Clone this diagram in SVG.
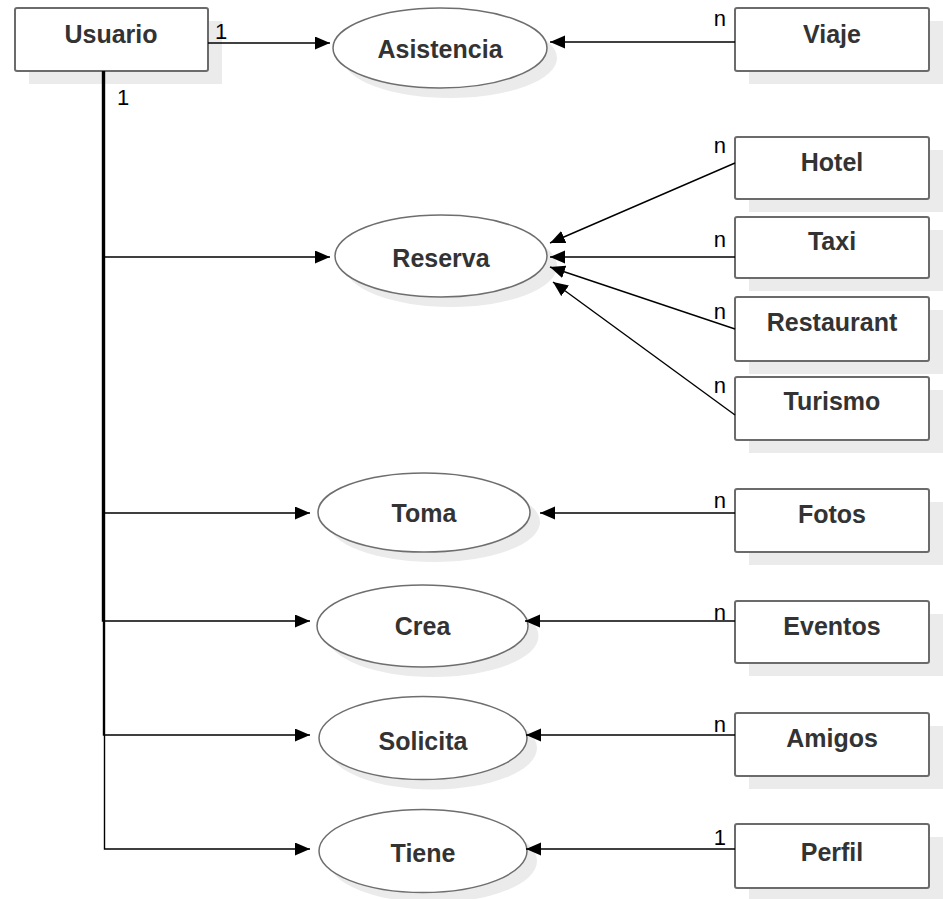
<svg xmlns="http://www.w3.org/2000/svg" width="943" height="899" viewBox="0 0 943 899">
<style>
.bg{fill:#ffffff}
.sh{fill:#ebebeb;stroke:none}
.box{fill:#ffffff;stroke:#6b6b6b;stroke-width:2}
.ell{fill:#ffffff;stroke:#6e6e6e;stroke-width:1.5}
.lbl{font-family:"Liberation Sans",Arial,sans-serif;font-weight:bold;font-size:25px;fill:#333333;text-anchor:middle}
.card{font-family:"Liberation Sans",Arial,sans-serif;font-size:22px;fill:#000000}
.cardE{font-family:"Liberation Sans",Arial,sans-serif;font-size:22px;fill:#000000;text-anchor:end}
.ln{fill:none;stroke:#000000;stroke-width:1.4}
</style>
<defs>
<marker id="arr" markerUnits="userSpaceOnUse" markerWidth="16" markerHeight="14" refX="15" refY="6.5" orient="auto">
<path d="M0,0 L15,6.5 L0,13 Z" fill="#000000"/>
</marker>
</defs>
<rect class="bg" x="0" y="0" width="943" height="899"/>

<g id="usuario">
<rect class="sh" x="29" y="21" width="193" height="63"/>
<rect class="box" x="15" y="8" width="193" height="63" rx="2"/>
<text class="lbl" x="111" y="43">Usuario</text>
</g>

<g id="asistencia">
<ellipse class="sh" cx="450" cy="58" rx="107" ry="40"/>
<ellipse class="ell" cx="440" cy="48" rx="107" ry="40"/>
<text class="lbl" x="440" y="58">Asistencia</text>
</g>
<g id="viaje">
<rect class="sh" x="749" y="21" width="194" height="63"/>
<rect class="box" x="735" y="8" width="194" height="63" rx="2"/>
<text class="lbl" x="832" y="43">Viaje</text>
</g>

<g id="reserva">
<ellipse class="sh" cx="451" cy="266" rx="106" ry="41"/>
<ellipse class="ell" cx="441" cy="256" rx="106" ry="41"/>
<text class="lbl" x="441" y="267">Reserva</text>
</g>
<g id="hotel">
<rect class="sh" x="749" y="150" width="194" height="62"/>
<rect class="box" x="735" y="137" width="194" height="62" rx="2"/>
<text class="lbl" x="832" y="171">Hotel</text>
</g>
<g id="taxi">
<rect class="sh" x="749" y="230" width="194" height="61"/>
<rect class="box" x="735" y="217" width="194" height="61" rx="2"/>
<text class="lbl" x="832" y="250">Taxi</text>
</g>
<g id="restaurant">
<rect class="sh" x="749" y="310" width="194" height="64"/>
<rect class="box" x="735" y="297" width="194" height="64" rx="2"/>
<text class="lbl" x="832" y="331">Restaurant</text>
</g>
<g id="turismo">
<rect class="sh" x="749" y="390" width="194" height="63"/>
<rect class="box" x="735" y="377" width="194" height="63" rx="2"/>
<text class="lbl" x="832" y="410">Turismo</text>
</g>

<g id="toma">
<ellipse class="sh" cx="434" cy="522" rx="106" ry="40"/>
<ellipse class="ell" cx="424" cy="512.5" rx="106" ry="39.5"/>
<text class="lbl" x="424" y="522">Toma</text>
</g>
<g id="fotos">
<rect class="sh" x="749" y="502" width="194" height="63"/>
<rect class="box" x="735" y="489" width="194" height="63" rx="2"/>
<text class="lbl" x="832" y="523">Fotos</text>
</g>

<g id="crea">
<ellipse class="sh" cx="433" cy="636" rx="105.5" ry="41"/>
<ellipse class="ell" cx="422.5" cy="626" rx="105.5" ry="41"/>
<text class="lbl" x="422.5" y="635">Crea</text>
</g>
<g id="eventos">
<rect class="sh" x="749" y="614" width="194" height="62"/>
<rect class="box" x="735" y="601" width="194" height="62" rx="2"/>
<text class="lbl" x="832" y="635">Eventos</text>
</g>

<g id="solicita">
<ellipse class="sh" cx="433" cy="748" rx="104" ry="41.5"/>
<ellipse class="ell" cx="423" cy="738" rx="104" ry="41.5"/>
<text class="lbl" x="423" y="750">Solicita</text>
</g>
<g id="amigos">
<rect class="sh" x="749" y="726" width="194" height="63"/>
<rect class="box" x="735" y="713" width="194" height="63" rx="2"/>
<text class="lbl" x="832" y="747">Amigos</text>
</g>

<g id="tiene">
<ellipse class="sh" cx="433" cy="861" rx="104" ry="41.5"/>
<ellipse class="ell" cx="423" cy="851" rx="104" ry="41.5"/>
<text class="lbl" x="423" y="862">Tiene</text>
</g>
<g id="perfil">
<rect class="sh" x="749" y="837" width="194" height="64"/>
<rect class="box" x="735" y="824" width="194" height="64" rx="2"/>
<text class="lbl" x="832" y="861">Perfil</text>
</g>

<g id="connectors">
<path class="ln" d="M208,43 H330" marker-end="url(#arr)"/>
<path class="ln" d="M735,42 H550" marker-end="url(#arr)"/>
<path class="ln" d="M103.5,71 V257 H330" marker-end="url(#arr)"/>
<path class="ln" d="M735,163 L550,243" marker-end="url(#arr)"/>
<path class="ln" d="M735,257 H550" marker-end="url(#arr)"/>
<path class="ln" d="M735,329 L550,267" marker-end="url(#arr)"/>
<path class="ln" d="M735,415 L553,282" marker-end="url(#arr)"/>
<path class="ln" d="M103.5,71 V513 H310" marker-end="url(#arr)"/>
<path class="ln" d="M735,513 H540" marker-end="url(#arr)"/>
<path class="ln" d="M102.5,71 V621 H310" marker-end="url(#arr)"/>
<path class="ln" d="M735,621 H525" marker-end="url(#arr)"/>
<path class="ln" d="M103.5,71 V735 H310" marker-end="url(#arr)"/>
<path class="ln" d="M735,735 H526" marker-end="url(#arr)"/>
<path class="ln" d="M104.5,71 V849 H310" marker-end="url(#arr)"/>
<path class="ln" d="M735,849 H526" marker-end="url(#arr)"/>
<text class="card" x="215" y="39">1</text>
<text class="card" x="117" y="105">1</text>
<text class="cardE" x="726" y="26">n</text>
<text class="cardE" x="726" y="153">n</text>
<text class="cardE" x="726" y="247">n</text>
<text class="cardE" x="726" y="319">n</text>
<text class="cardE" x="726" y="393">n</text>
<text class="cardE" x="726" y="508">n</text>
<text class="cardE" x="726" y="620">n</text>
<text class="cardE" x="726" y="732">n</text>
<text class="cardE" x="726" y="845">1</text>
</g>
</svg>
